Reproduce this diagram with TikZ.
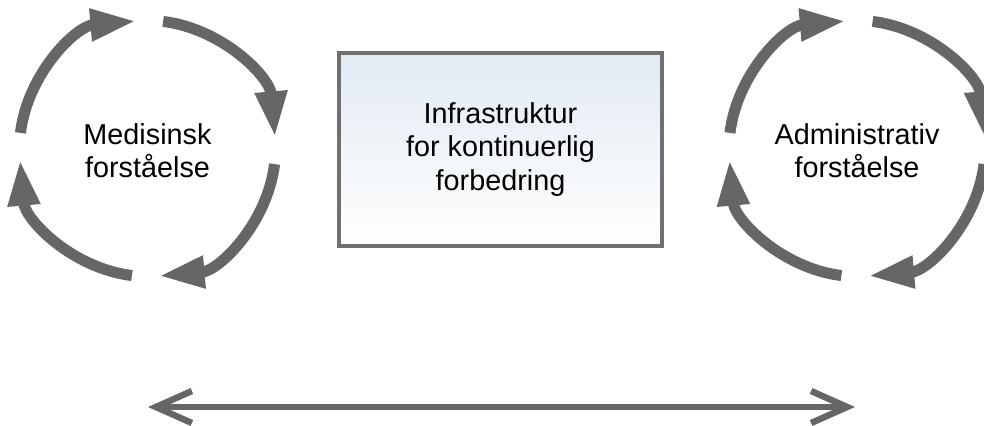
\documentclass[tikz,border=0pt]{standalone}
\usepackage{fontspec}
\setmainfont{Liberation Sans}
\usetikzlibrary{arrows.meta,calc}
\definecolor{arrowgray}{RGB}{102,102,102}
\definecolor{boxborder}{RGB}{112,112,112}
\definecolor{boxtop}{RGB}{226,234,243}
\begin{document}
\begin{tikzpicture}[x=0.75pt,y=0.75pt,
  cyclearc/.style={draw=arrowgray, line width=8.25pt,
    -{Triangle[length=34.5pt,width=22.5pt]}},
  labeltext/.style={align=center, font=\fontsize{21.6pt}{25pt}\selectfont, text=black},
  boxnode/.style={draw=boxborder, line width=3pt, top color=boxtop, bottom color=white,
    minimum width=242pt, minimum height=144.75pt, inner sep=0pt},
  spanarrow/.style={draw=arrowgray, line width=4.8pt,
    {Straight Barb[length=27pt,width=24pt]}-{Straight Barb[length=27pt,width=24pt]}}
]
\useasboundingbox (0,0) rectangle (984,425);
% centres
\coordinate (Lc) at (147.5,276.5);
\coordinate (Rc) at (857,276.5);
\def\R{128}
% left cycle
\node[labeltext] (med) at (147.5,274) {Medisinsk\\forståelse};
\foreach \k in {0,1,2,3}{
  \pgfmathsetmacro{\sa}{173-90*\k}
  \pgfmathsetmacro{\ea}{95-90*\k}
  \draw[cyclearc] ($(Lc)+(\sa:\R)$) arc[start angle=\sa, end angle=\ea, radius=\R];
}
% right cycle
\node[labeltext] (adm) at (857,274) {Administrativ\\forståelse};
\foreach \k in {0,1,2,3}{
  \pgfmathsetmacro{\sa}{173-90*\k}
  \pgfmathsetmacro{\ea}{95-90*\k}
  \draw[cyclearc] ($(Rc)+(\sa:\R)$) arc[start angle=\sa, end angle=\ea, radius=\R];
}
% central box
\node[boxnode] (infra) at (500.5,275.5) {};
\node[labeltext] (infratext) at (infra.center) {Infrastruktur\\for kontinuerlig\\forbedring};
% bottom double arrow
\coordinate (aL) at (148,18);
\coordinate (aR) at (855,18);
\draw[spanarrow] (aL) -- (aR);
\end{tikzpicture}
\end{document}
